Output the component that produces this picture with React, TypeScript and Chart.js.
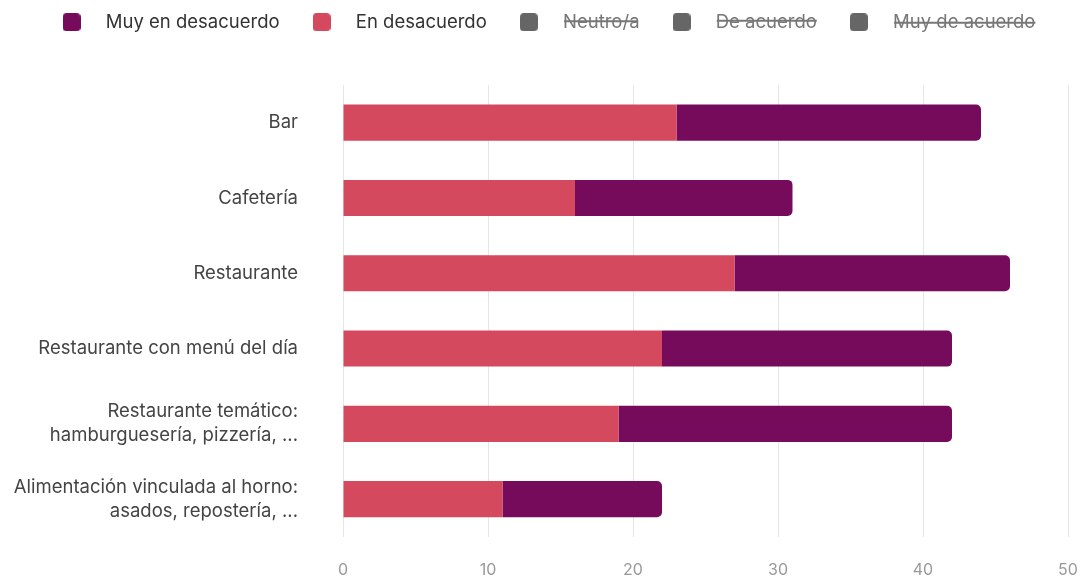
import React, { useEffect, useRef } from "react";
import { Chart, registerables } from "chart.js";

Chart.register(...registerables);

const categories: (string | string[])[] = [
  "Bar",
  "Cafetería",
  "Restaurante",
  "Restaurante con menú del día",
  ["Restaurante temático:", "hamburguesería, pizzería, ..."],
  ["Alimentación vinculada al horno:", "asados, repostería, ..."],
];

const muyEnDesacuerdo = [21, 15, 19, 20, 23, 11];
const enDesacuerdo = [23, 16, 27, 22, 19, 11];
const neutro: number[] = [];
const deAcuerdo: number[] = [];
const muyDeAcuerdo: number[] = [];

const xTicks = [0, 10, 20, 30, 40, 50];

const FONT = "Inter, 'Noto Sans', sans-serif";

function makeBox(color: string): HTMLCanvasElement {
  const c = document.createElement("canvas");
  const s = 18;
  c.width = s;
  c.height = s;
  const ctx = c.getContext("2d")!;
  ctx.fillStyle = color;
  ctx.beginPath();
  const r = 4;
  ctx.moveTo(r, 0);
  ctx.lineTo(s - r, 0);
  ctx.quadraticCurveTo(s, 0, s, r);
  ctx.lineTo(s, s - r);
  ctx.quadraticCurveTo(s, s, s - r, s);
  ctx.lineTo(r, s);
  ctx.quadraticCurveTo(0, s, 0, s - r);
  ctx.lineTo(0, r);
  ctx.quadraticCurveTo(0, 0, r, 0);
  ctx.closePath();
  ctx.fill();
  return c;
}

export default function App() {
  const ref = useRef<HTMLCanvasElement | null>(null);

  useEffect(() => {
    if (!ref.current) return;
    const legendSpace = {
      id: "legendSpace",
      beforeInit(chart: any) {
        const orig = chart.legend.fit;
        chart.legend.fit = function () {
          orig.bind(chart.legend)();
          this.height = 89;
        };
      },
      afterLayout(chart: any) {
        if (chart.legend) {
          chart.legend.left += 7;
          chart.legend.right += 7;
        }
      },
    };
    const chart = new Chart(ref.current, {
      type: "bar",
      data: {
        labels: categories,
        datasets: [
          { label: "Muy de acuerdo", data: muyDeAcuerdo, backgroundColor: "#666666", hidden: true },
          { label: "De acuerdo", data: deAcuerdo, backgroundColor: "#666666", hidden: true },
          { label: "Neutro/a", data: neutro, backgroundColor: "#666666", hidden: true },
          {
            label: "En desacuerdo",
            data: enDesacuerdo,
            backgroundColor: "#d4495e",
            borderRadius: 5,
            barPercentage: 0.6,
            categoryPercentage: 0.8,
          },
          {
            label: "Muy en desacuerdo",
            data: muyEnDesacuerdo,
            backgroundColor: "#760b5c",
            borderRadius: 5,
            barPercentage: 0.6,
            categoryPercentage: 0.8,
          },
        ],
      },
      options: {
        indexAxis: "y",
        responsive: false,
        animation: false,
        layout: { padding: { top: -4, right: 20, bottom: 0, left: 0 } },
        scales: {
          x: {
            stacked: true,
            min: 0,
            max: 50,
            afterBuildTicks(scale: any) {
              scale.ticks = xTicks.map((v) => ({ value: v }));
            },
            grid: {
              color: "#e6e6e6",
              drawTicks: true,
              tickLength: 24,
              tickColor: "rgba(0,0,0,0)",
            },
            border: { display: false },
            ticks: {
              padding: 0,
              color: "#999999",
              font: { family: FONT, size: 16 },
            },
          },
          y: {
            stacked: true,
            grid: {
              display: true,
              drawOnChartArea: false,
              drawTicks: true,
              tickLength: 45,
              tickColor: "rgba(0,0,0,0)",
            },
            border: { display: true, color: "#e6e6e6" },
            afterFit(scale: any) {
              scale.width = 343;
            },
            ticks: {
              padding: 0,
              color: "#444444",
              font: { family: FONT, size: 18.5, lineHeight: 1.3 },
            },
          },
        },
        plugins: {
          tooltip: { enabled: false },
          legend: {
            position: "top",
            reverse: true,
            labels: {
              usePointStyle: true,
              pointStyleWidth: 50,
              boxHeight: 18,
              padding: 17,
              font: { family: FONT, size: 18.5 },
              color: "#333333",
              generateLabels(chart: any) {
                const items = Chart.defaults.plugins.legend.labels.generateLabels(chart);
                return items.map((it: any) => ({
                  ...it,
                  fontColor: it.hidden ? "#777777" : "#333333",
                  lineWidth: 0,
                  pointStyle: makeBox(it.hidden ? "#666666" : (it.fillStyle as string)),
                }));
              },
            },
          },
        },
      },
      plugins: [legendSpace],
    } as any);
    return () => chart.destroy();
  }, []);

  return (
    <div style={{ position: "fixed", left: 0, top: 0, width: 1088, height: 580, background: "#fff" }}>
      <canvas ref={ref} width={1088} height={580} style={{ width: 1088, height: 580, display: "block" }} />
    </div>
  );
}
